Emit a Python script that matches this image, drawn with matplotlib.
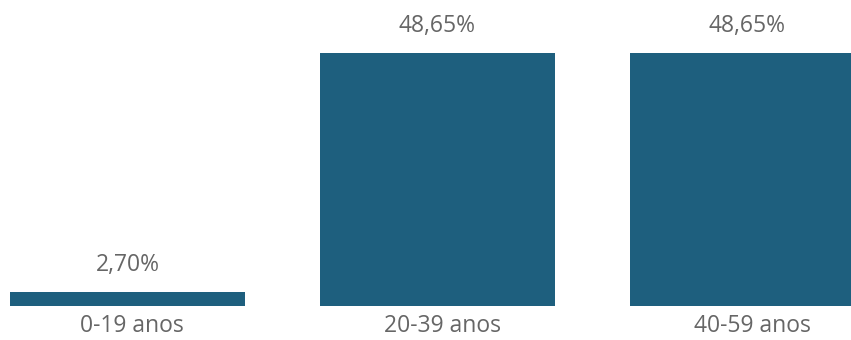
import matplotlib.pyplot as plt
import numpy as np

plt.rcParams['font.family'] = ['Open Sans', 'DejaVu Sans']

categories = ['0-19 anos', '20-39 anos', '40-59 anos']
values = [2.70, 48.65, 48.65]
value_labels = ['2,70%', '48,65%', '48,65%']

bar_color = '#1e5f7e'
text_color = '#666666'

fig = plt.figure(figsize=(8.51, 3.4), dpi=100)
ax = fig.add_axes([0, 0.1, 1, 0.9])

x = np.arange(len(categories))
bars = ax.bar(x, values, width=0.758, color=bar_color)

for bar, lab in zip(bars, value_labels):
    ax.annotate(lab, (bar.get_x() + bar.get_width() / 2, bar.get_height()),
                xytext=(0, 11), textcoords='offset points',
                ha='center', va='bottom', fontsize=16.5, color=text_color)

ax.set_xlim(-0.411, 2.334)
ax.set_ylim(0, 58.84)
ax.set_xticks(x + 0.015)
ax.set_xticklabels(categories, fontsize=16.5, color=text_color)
ax.tick_params(axis='x', length=0, pad=6)
ax.set_yticks([])
for s in ax.spines.values():
    s.set_visible(False)

fig.savefig('out.png', dpi=100)
